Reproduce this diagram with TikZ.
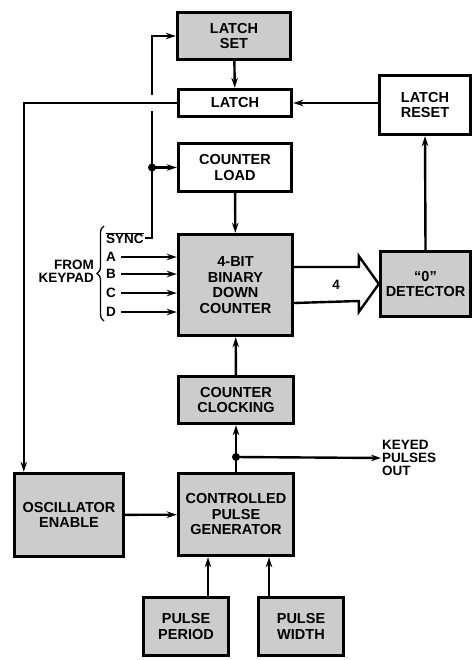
\documentclass[tikz,border=0pt]{standalone}
\usepackage{fontspec}
\setsansfont{Liberation Sans}
\usetikzlibrary{arrows.meta, calc, decorations.pathreplacing}
\definecolor{boxgray}{RGB}{204,204,204}

\begin{document}
\begin{tikzpicture}[x=1pt, y=-1pt, >={Stealth[length=10pt,width=6.5pt]},
    block/.style={draw, line width=3.4pt, rectangle, align=center, inner sep=0pt, font=\sffamily\bfseries\fontsize{14.5}{15.5}\selectfont},
    shaded/.style={block, fill=boxgray},
    wire/.style={line width=2.4pt},
    lbl/.style={inner sep=1pt, font=\sffamily\bfseries\fontsize{13.5}{13}\selectfont}]
    \useasboundingbox (0,0) rectangle (472,660);

    \node [shaded, minimum width=113pt, minimum height=47pt] (latchset) at (234,36) {LATCH\\SET};
    \node [block, minimum width=113pt, minimum height=27pt] (latch) at (235,103) {LATCH};
    \node [block, minimum width=91pt, minimum height=59pt] (reset) at (425,105) {LATCH\\RESET};
    \node [block, minimum width=113pt, minimum height=48pt] (load) at (235,167.5) {COUNTER\\LOAD};
    \node [shaded, minimum width=114pt, minimum height=101pt] (counter) at (235.5,285) {4-BIT\\BINARY\\DOWN\\COUNTER};
    \node [shaded, minimum width=90pt, minimum height=65pt] (detector) at (425.5,284) {“0”\\DETECTOR};
    \node [shaded, minimum width=115pt, minimum height=47pt] (clocking) at (236,400) {COUNTER\\CLOCKING};
    \node [shaded, minimum width=109pt, minimum height=83pt] (osc) at (69,515) {OSCILLATOR\\ENABLE};
    \node [shaded, minimum width=115pt, minimum height=82pt] (gen) at (236,514.5) {CONTROLLED\\PULSE\\GENERATOR};
    \node [shaded, minimum width=85pt, minimum height=58pt] (period) at (186,626.5) {PULSE\\PERIOD};
    \node [shaded, minimum width=85pt, minimum height=58pt] (pwidth) at (301,626.5) {PULSE\\WIDTH};

    \node [lbl, anchor=west] (sync) at (105,238) {$\overline{\hbox{SYNC}}$};
    \node [lbl, anchor=east, align=right] (keypad) at (95,271) {FROM\\KEYPAD};
    \node [lbl] (bus) at (336,285) {4};
    \node [lbl, anchor=west, align=left] (keyed) at (381,458) {KEYED\\PULSES\\OUT};

    \foreach \n/\y in {A/257, B/274, C/293, D/312} {
        \node [lbl, anchor=west] (in\n) at (105,\y) {\n};
        \draw[wire,->] ([xshift=4pt]in\n.east) -- (in\n.east -| counter.west);
    }
    \draw[line width=1.3pt, decorate, decoration={brace, amplitude=7pt}] (104,321) -- (104,226);

    \coordinate (gapbot) at (152,111);
    \coordinate (gaptop) at (152,95);
    \coordinate (split) at (152,167.5);
    \coordinate (tap) at (236,457);

    \draw[wire] (sync.east) -| (gapbot);
    \draw[wire,->] (gaptop) |- (latchset.west);
    \fill (split) circle (4);
    \draw[wire,->] (split) -- (load.west);

    \draw[wire,->] (latchset) -- (latch);
    \draw[wire,->] (latch.east -| reset.west) -- (latch.east);
    \draw[wire,->] (latch.west) -| ([xshift=11pt]osc.north west);
    \draw[wire,->] (detector.north) -- (reset.south);
    \draw[wire,->] (load) -- (counter);
    \draw[wire,->] (clocking) -- (counter);
    \draw[wire,->] (gen) -- (clocking);
    \fill (tap) circle (4);
    \draw[wire,->] (tap) -- (keyed.west);
    \draw[wire,->] (osc) -- (gen);
    \draw[wire,->] ([xshift=22pt]period.north) -- ([xshift=22pt]period.north |- gen.south);
    \draw[wire,->] ([xshift=-32pt]pwidth.north) -- ([xshift=-32pt]pwidth.north |- gen.south);

    \draw[wire, line join=miter] ($(counter.east)+(0,-18)$) -- ($(detector.west)+(-20,-17)$)
        -- ($(detector.west)+(-20,-28)$) -- (detector.west) -- ($(detector.west)+(-20,28)$)
        -- ($(detector.west)+(-20,17)$) -- ($(counter.east)+(0,18)$);
\end{tikzpicture}
\end{document}
